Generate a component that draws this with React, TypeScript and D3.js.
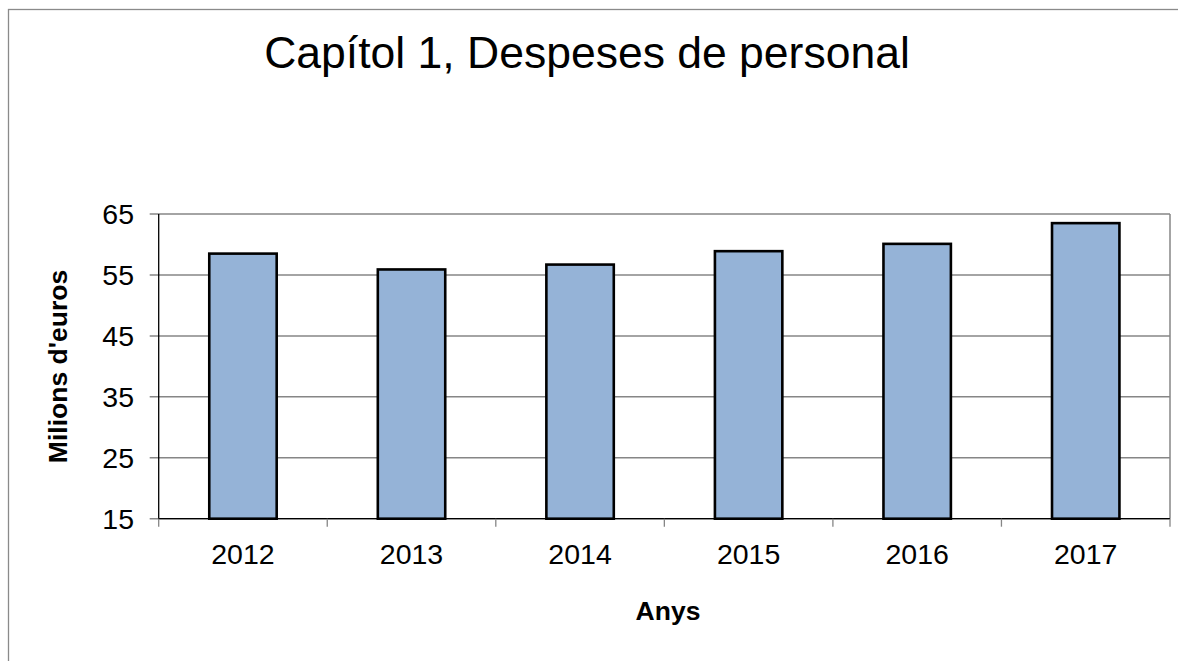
import React from "react";
import * as d3 from "d3";

const categories = ["2012", "2013", "2014", "2015", "2016", "2017"];
const values = [58.5, 55.9, 56.7, 58.9, 60.1, 63.5];
const yTicks = [15, 25, 35, 45, 55, 65];

const W = 1178;
const H = 661;
const plot = { left: 158.7, right: 1170, top: 214, bottom: 518.7 };

export default function App() {
  const x = d3
    .scaleBand<string>()
    .domain(categories)
    .range([plot.left, plot.right])
    .paddingInner(0)
    .paddingOuter(0);
  const y = d3.scaleLinear().domain([15, 65]).range([plot.bottom, plot.top]);
  const bw = x.bandwidth() * 0.4;
  const font = "Arial, 'Liberation Sans', sans-serif";
  const boundaries = [...categories.map((c) => x(c) as number), plot.right];

  return (
    <svg
      width={W}
      height={H}
      style={{ position: "absolute", left: 0, top: 0, background: "#fff" }}
      fontFamily={font}
    >
      <rect x={0} y={0} width={W} height={H} fill="#fff" />
      <rect x={8.5} y={9.5} width={1300} height={800} fill="none" stroke="#8a8a8a" strokeWidth={1.3} />
      <text x={587} y={68} textAnchor="middle" fontSize={44.5} fill="#000">
        Capítol 1, Despeses de personal
      </text>
      {yTicks.map((t) => (
        <line
          key={t}
          x1={plot.left - 9}
          x2={plot.right}
          y1={y(t)}
          y2={y(t)}
          stroke="#868686"
          strokeWidth={1.5}
        />
      ))}
      <line x1={plot.right} x2={plot.right} y1={plot.top} y2={plot.bottom} stroke="#868686" strokeWidth={1.5} />
      {categories.map((c, i) => {
        const cx = (x(c) as number) + x.bandwidth() / 2;
        return (
          <rect
            key={c}
            x={cx - bw / 2}
            y={y(values[i])}
            width={bw}
            height={plot.bottom - y(values[i])}
            fill="#95B3D7"
            stroke="#000"
            strokeWidth={2.6}
          />
        );
      })}
      <line x1={plot.left} x2={plot.left} y1={plot.top} y2={plot.bottom} stroke="#000" strokeWidth={1.3} />
      <line x1={plot.left} x2={plot.right} y1={plot.bottom} y2={plot.bottom} stroke="#000" strokeWidth={1.3} />
      {boundaries.map((b, i) => (
        <line key={i} x1={b} x2={b} y1={plot.bottom} y2={plot.bottom + 8} stroke="#868686" strokeWidth={1.3} />
      ))}
      {yTicks.map((t) => (
        <text key={t} x={134} y={y(t) + 10.2} textAnchor="end" fontSize={28.5} fill="#000">
          {t}
        </text>
      ))}
      {categories.map((c) => (
        <text
          key={c}
          x={(x(c) as number) + x.bandwidth() / 2}
          y={563.5}
          textAnchor="middle"
          fontSize={28.5}
          fill="#000"
        >
          {c}
        </text>
      ))}
      <text x={668} y={619.5} textAnchor="middle" fontSize={26.5} fontWeight="bold" fill="#000">
        Anys
      </text>
      <text
        transform={`translate(66.5,366.5) rotate(-90)`}
        textAnchor="middle"
        fontSize={26.5}
        fontWeight="bold"
        fill="#000"
      >
        Milions d'euros
      </text>
    </svg>
  );
}
